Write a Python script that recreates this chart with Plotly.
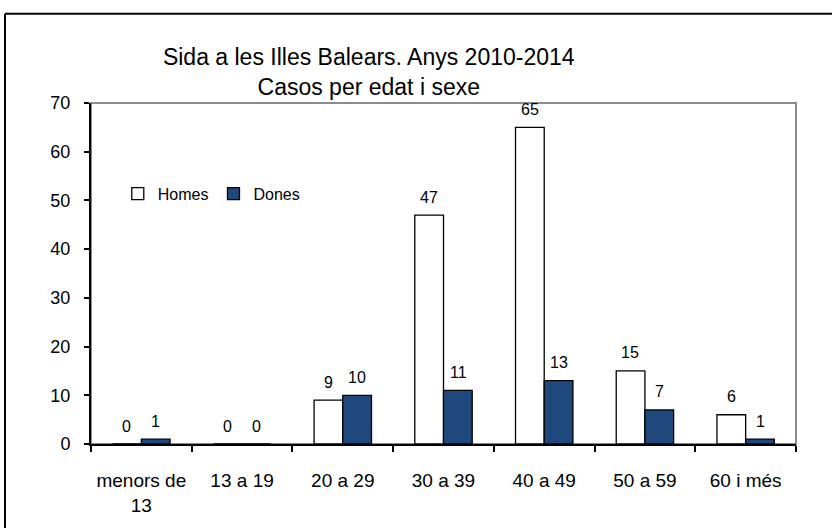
import plotly.graph_objects as go

# dades del grafic
categories = ["menors de<br>13", "13 a 19", "20 a 29", "30 a 39", "40 a 49", "50 a 59", "60 i més"]
homes = [0, 0, 9, 47, 65, 15, 6]
dones = [1, 0, 10, 11, 13, 7, 1]
yticks = [0, 10, 20, 30, 40, 50, 60, 70]

FONT = "Liberation Sans, Arial, sans-serif"

fig = go.Figure()
fig.add_trace(go.Bar(x=categories, y=homes, name="Homes",
                     marker=dict(color="white", line=dict(color="black", width=1.3))))
fig.add_trace(go.Bar(x=categories, y=dones, name="Dones",
                     marker=dict(color="#1f497d", line=dict(color="black", width=1.3))))

# etiquetes de valor damunt les barres
annots = []
for i, c in enumerate(categories):
    annots.append(dict(x=c, y=homes[i], text=str(homes[i]), showarrow=False,
                       xshift=-14.5, yshift=18, font=dict(size=16, color="black")))
    annots.append(dict(x=c, y=dones[i], text=str(dones[i]), showarrow=False,
                       xshift=14.5, yshift=18, font=dict(size=16, color="black")))

fig.update_layout(
    width=832, height=528,
    margin=dict(l=91, r=36, t=103, b=79),
    paper_bgcolor="white", plot_bgcolor="white",
    font=dict(family=FONT, color="black", size=16),
    barmode="group", bargap=0.43, bargroupgap=0,
    title=dict(text="Sida a les Illes Balears. Anys 2010-2014<br>Casos per edat i sexe",
               x=0.394, xref="paper", xanchor="center",
               y=0.877, yref="container", yanchor="middle",
               font=dict(size=23, family=FONT, color="black")),
    legend=dict(orientation="h", x=0.038, y=0.734, xanchor="left", yanchor="middle",
                bgcolor="rgba(0,0,0,0)", font=dict(size=16), itemwidth=30),
    annotations=annots,
    showlegend=True,
)

fig.update_xaxes(type="category", showline=True, linecolor="black", linewidth=2,
                 ticks="outside", tickson="boundaries", ticklen=6, tickcolor="black",
                 tickwidth=1.5, showgrid=False, ticklabelstandoff=18,
                 tickfont=dict(size=19))
fig.update_yaxes(range=[0, 70], tickvals=yticks, showline=True, linecolor="black",
                 linewidth=2, ticks="outside", ticklen=5, tickcolor="black",
                 tickwidth=1.5, showgrid=False, zeroline=False,
                 tickfont=dict(size=18), ticklabelstandoff=10)

# marc gris de l'area del grafic
fig.add_shape(type="rect", xref="paper", yref="paper", x0=0, x1=1, y0=0, y1=1,
              line=dict(color="#8c8c8c", width=2), layer="below")
# marc exterior negre (dalt i esquerra, la resta queda fora de la imatge)
fig.add_shape(type="line", xref="paper", yref="paper", x0=-0.122, x1=1.2,
              y0=1.2616, y1=1.2616, line=dict(color="black", width=2), layer="below")
fig.add_shape(type="line", xref="paper", yref="paper", x0=-0.122, x1=-0.122,
              y0=-0.3, y1=1.2616, line=dict(color="black", width=2), layer="below")

# sense marge del body perque la figura comenci a (0,0)
fig.write_html("out.html", config={"displayModeBar": False},
               post_script="document.body.style.margin='0';")
